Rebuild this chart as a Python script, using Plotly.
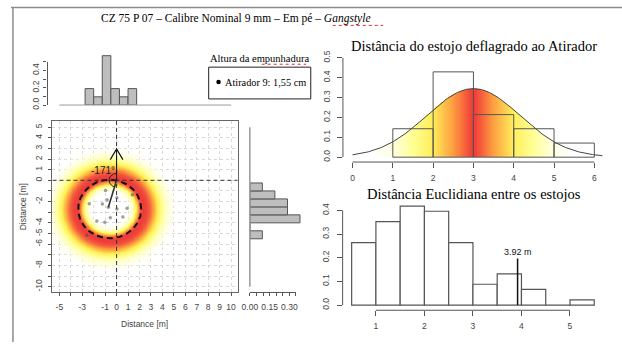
import numpy as np
import plotly.graph_objects as go

W, H = 622, 347

# ---------------- data ----------------
# case positions (m) relative to shooter
pts_x = [-0.97, 1.38, 0.03, -0.83, -2.39, -1.24, -0.72, 0.03, 0.92, 0.55, -0.55, -1.72, -1.03, -2.60]
pts_y = [-0.96, -1.35, -1.63, -1.84, -2.21, -2.24, -2.54, -2.69, -2.63, -3.46, -3.52, -3.82, -3.94, -5.16]
mean_pt = (-0.72, -2.54)
circle_center = (-0.6, -2.7)
circle_radius = 2.75
ring_radius, ring_in, ring_out = 2.9, 0.5, 1.1
angle_label = "-171°"
facing_len = 2.94

# marginal histograms (density)
top_edges = [-2.75, -2.0, -1.25, -0.5, 0.25, 1.0, 1.75]
top_dens = [0.190, 0.095, 0.571, 0.190, 0.095, 0.190]
right_edges = [-5.5, -4.75, -4.0, -3.25, -2.5, -1.75, -1.0, -0.25]
right_dens = [0.095, 0.0, 0.381, 0.286, 0.286, 0.190, 0.095]

# distance case -> shooter
dist_edges = [1, 2, 3, 4, 5, 6]
dist_dens = [0.143, 0.429, 0.214, 0.143, 0.071]
dist_mean, dist_sd = 3.0, 1.156

# euclidean distance between cases
eucl_edges = [0.5, 1.0, 1.5, 2.0, 2.5, 3.0, 3.5, 4.0, 4.5, 5.0, 5.5]
eucl_dens = [0.264, 0.352, 0.418, 0.396, 0.264, 0.088, 0.132, 0.066, 0.0, 0.022]
eucl_mark = 3.92
eucl_mark_h = 0.197

# ---------------- helpers ----------------
def PX(px):
    return px / W

def PY(py):
    return 1 - py / H

def mids(e):
    return [(a + b) / 2 for a, b in zip(e[:-1], e[1:])]

TICKFONT = dict(family="Liberation Sans, Arial", size=8.5, color="#444")
AX = "#555"
SERIF = "Liberation Serif, Times New Roman"

fig = go.Figure()

# ---------- scatter panel heat ring ----------
gx = np.linspace(-5.6, 10.6, 330)
gy = np.linspace(-10.6, 5.6, 330)
GX, GY = np.meshgrid(gx, gy)
R = np.hypot(GX - circle_center[0], GY - circle_center[1])
S = np.where(R < ring_radius, ring_in, ring_out)
Z = np.exp(-(R - ring_radius) ** 2 / (2 * S ** 2))
heat_cs = [[0, "rgba(255,255,255,0)"], [0.1, "rgba(255,255,215,0.7)"],
           [0.3, "rgb(255,255,150)"], [0.5, "rgb(255,240,85)"],
           [0.72, "rgb(252,160,62)"], [0.88, "rgb(244,92,62)"], [1, "rgb(238,60,58)"]]
fig.add_trace(go.Heatmap(x=gx, y=gy, z=Z, colorscale=heat_cs, zmin=0, zmax=1,
                         zsmooth="best", showscale=False, hoverinfo="skip",
                         xaxis="x", yaxis="y"))

# crosshair dashed lines
fig.add_trace(go.Scatter(x=[-5.6, 10.6], y=[0, 0], mode="lines",
                         line=dict(color="#333", width=1, dash="4px,3px"), xaxis="x", yaxis="y", hoverinfo="skip"))
fig.add_trace(go.Scatter(x=[0, 0], y=[-10.6, 5.6], mode="lines",
                         line=dict(color="#333", width=1, dash="4px,3px"), xaxis="x", yaxis="y", hoverinfo="skip"))

# dashed circle
th = np.linspace(0, 2 * np.pi, 200)
fig.add_trace(go.Scatter(x=circle_center[0] + circle_radius * np.cos(th),
                         y=circle_center[1] + circle_radius * np.sin(th),
                         mode="lines", line=dict(color="#111", width=2, dash="6px,4px"),
                         xaxis="x", yaxis="y", hoverinfo="skip"))

# points
fig.add_trace(go.Scatter(x=pts_x, y=pts_y, mode="markers",
                         marker=dict(size=3.5, color="rgba(80,80,80,0.55)"),
                         xaxis="x", yaxis="y", hoverinfo="skip"))

# facing arrow
fig.add_trace(go.Scatter(x=[0, 0], y=[0, facing_len], mode="lines",
                         line=dict(color="#111", width=1), xaxis="x", yaxis="y", hoverinfo="skip"))
fig.add_trace(go.Scatter(x=[-0.55, 0, 0.55], y=[facing_len - 1.0, facing_len, facing_len - 1.0], mode="lines",
                         line=dict(color="#111", width=1.2), xaxis="x", yaxis="y", hoverinfo="skip"))
# mean direction line
fig.add_trace(go.Scatter(x=[mean_pt[0], 0], y=[mean_pt[1], 0], mode="lines",
                         line=dict(color="#333", width=1.6), xaxis="x", yaxis="y", hoverinfo="skip"))
# angle arc
a0 = np.pi / 2
a1 = np.arctan2(mean_pt[1], mean_pt[0]) + 2 * np.pi
ta = np.linspace(a0, a1, 60)
fig.add_trace(go.Scatter(x=0.65 * np.cos(ta), y=0.65 * np.sin(ta), mode="lines",
                         line=dict(color="#222", width=1), xaxis="x", yaxis="y", hoverinfo="skip"))

# ---------- top marginal histogram ----------
fig.add_trace(go.Bar(x=mids(top_edges), y=top_dens, width=0.75,
                     marker=dict(color="#bebebe", line=dict(color="#555", width=1)),
                     xaxis="x2", yaxis="y2", hoverinfo="skip"))

# ---------- right marginal histogram ----------
fig.add_trace(go.Bar(y=mids(right_edges), x=right_dens, width=0.75, orientation="h",
                     marker=dict(color="#bebebe", line=dict(color="#555", width=1)),
                     xaxis="x3", yaxis="y3", hoverinfo="skip"))

# ---------- distance to shooter ----------
xs = np.arange(0.0, 6.225, 0.025)
fx = np.exp(-(xs - dist_mean) ** 2 / (2 * dist_sd ** 2)) / (dist_sd * np.sqrt(2 * np.pi))
t = np.clip(1 - np.abs(xs - dist_mean) / 2.5, 0, 1)
grad_cs = [[0, "rgb(255,255,255)"], [0.2, "rgb(255,255,228)"], [0.4, "rgb(255,255,150)"],
           [0.6, "rgb(255,238,90)"], [0.8, "rgb(253,160,64)"], [0.92, "rgb(246,95,60)"], [1, "rgb(240,55,55)"]]
fig.add_trace(go.Bar(x=xs, y=fx, width=0.04,
                     marker=dict(color=t, colorscale=grad_cs, cmin=0, cmax=1, line=dict(width=0)),
                     xaxis="x4", yaxis="y4", hoverinfo="skip"))
fig.add_trace(go.Bar(x=mids(dist_edges), y=dist_dens, width=1,
                     marker=dict(color="rgba(0,0,0,0)", line=dict(color="#555", width=1)),
                     xaxis="x4", yaxis="y4", hoverinfo="skip"))
fig.add_trace(go.Scatter(x=xs, y=fx, mode="lines", line=dict(color="#444", width=1),
                         xaxis="x4", yaxis="y4", hoverinfo="skip"))

# ---------- euclidean distance ----------
fig.add_trace(go.Bar(x=mids(eucl_edges), y=eucl_dens, width=0.5,
                     marker=dict(color="white", line=dict(color="#555", width=1.2)),
                     xaxis="x5", yaxis="y5", hoverinfo="skip"))
fig.add_trace(go.Scatter(x=[eucl_mark, eucl_mark], y=[0, eucl_mark_h], mode="lines",
                         line=dict(color="#111", width=1.5), xaxis="x5", yaxis="y5", hoverinfo="skip"))

# ---------------- axes ----------------
def base_axis(**kw):
    d = dict(ticks="outside", ticklen=3, tickwidth=1, tickcolor=AX, tickfont=TICKFONT,
             showgrid=False, zeroline=False, showline=False, fixedrange=True)
    d.update(kw)
    return d

sx = 11.6   # px per m (scatter x)
sy = 10.95  # px per m (scatter y)
x0px, y0py = 110, 180.5

int_x = list(range(-5, 11))
lab_x = [str(v) if v not in (-4, -2) else "" for v in int_x]
int_y = list(range(-10, 6))
lab_y = [str(v) if v not in (-1, -3, -7, -9) else "" for v in int_y]

fig.update_layout(
    xaxis=base_axis(domain=[PX(45), PX(232.5)], range=[(45 - x0px) / sx, (232.5 - x0px) / sx],
                    anchor="y", tickvals=int_x, ticktext=lab_x, showline=True, mirror=True,
                    linecolor="#666", showgrid=True, gridcolor="#d8d8d8", griddash="dot",
                    ticklabelstandoff=3),
    yaxis=base_axis(domain=[PY(296), PY(119)], range=[(y0py - 296) / sy, (y0py - 119) / sy],
                    anchor="x", tickvals=int_y, ticktext=lab_y, tickangle=-90, showline=True,
                    mirror=True, linecolor="#666", showgrid=True, gridcolor="#d8d8d8",
                    griddash="dot", ticklabelstandoff=3),
    xaxis2=base_axis(domain=[PX(40), PX(232.5)], range=[(40 - x0px) / sx, (232.5 - x0px) / sx],
                     anchor="y2", ticks="", showticklabels=False),
    yaxis2=base_axis(domain=[PY(103), PY(45)], range=[0, 58 / 89.0], anchor="x2",
                     tickvals=[0, 0.1, 0.2, 0.3, 0.4, 0.5], ticktext=["0.0", "", "0.2", "", "0.4", ""],
                     tickangle=-90, ticklabelstandoff=1),
    xaxis3=base_axis(domain=[PX(245), PX(305)], range=[0, 60 * 0.0075], anchor="y3",
                     tickvals=[0, 0.05, 0.1, 0.15, 0.2, 0.25, 0.3, 0.35],
                     ticktext=["0.00", "", "", "0.15", "", "", "0.30", ""], ticklabelstandoff=3),
    yaxis3=base_axis(domain=[PY(296), PY(119)], range=[(y0py - 296) / sy, (y0py - 119) / sy],
                     anchor="x3", ticks="", showticklabels=False),
    xaxis4=base_axis(domain=[PX(339.3), PX(606)], range=[(339.3 - 349) / 40.83, (606 - 349) / 40.83],
                     anchor="y4", tickvals=[0, 1, 2, 3, 4, 5, 6], ticklen=5, ticklabelstandoff=3),
    yaxis4=base_axis(domain=[PY(161.7), PY(52)], range=[(156.7 - 161.7) / 204.8, (156.7 - 52) / 204.8],
                     anchor="x4", tickvals=[0, 0.1, 0.2, 0.3, 0.4, 0.5],
                     ticktext=["0.0", "0.1", "0.2", "0.3", "0.4", "0.5"], tickangle=-90,
                     ticklen=5, ticklabelstandoff=4),
    xaxis5=base_axis(domain=[PX(339), PX(600)], range=[1 + (339 - 372.7) / 49.15, 1 + (600 - 372.7) / 49.15],
                     anchor="y5", tickvals=[1, 2, 3, 4, 5], ticklen=5, ticklabelstandoff=3),
    yaxis5=base_axis(domain=[PY(314.3), PY(205)], range=[(309 - 314.3) / 244, (309 - 205) / 244],
                     anchor="x5", tickvals=[0, 0.1, 0.2, 0.3, 0.4],
                     ticktext=["0.0", "0.1", "0.2", "0.3", "0.4"], tickangle=-90,
                     ticklen=5, ticklabelstandoff=4),
)

# ---------------- shapes ----------------
def pline(x0, y0, x1, y1, color=AX, width=1, dash=None):
    ln = dict(color=color, width=width)
    if dash:
        ln["dash"] = dash
    return dict(type="line", xref="paper", yref="paper", x0=PX(x0), y0=PY(y0), x1=PX(x1), y1=PY(y1), line=ln)

shapes = [
    # outer frame
    pline(3, 2.5, 622, 2.5, color="#8c8c8c", width=1.5),
    pline(5, 2, 5, 347, color="#8c8c8c", width=1.5),
    # top hist y axis & baseline
    pline(40, 103, 40, 103 - 0.5 * 89),
    pline(x0px - 5 * sx, 103, x0px + 10 * sx, 103, color="#9a9a9a", width=1),
    # right hist baseline & x axis
    pline(245, y0py - 5 * sy, 245, y0py + 10 * sy, color="#9a9a9a", width=1.5),
    pline(245, 296, 245 + 0.35 / 0.0075, 296),
    # top-right axes
    pline(349, 161.7, 349 + 6 * 40.83, 161.7),
    pline(339.3, 156.7, 339.3, 156.7 - 0.5 * 204.8),
    # bottom-right axes
    pline(372.7, 314.3, 372.7 + 4 * 49.15, 314.3),
    pline(339, 309, 339, 309 - 0.4 * 244),
    # legend box
    dict(type="rect", xref="paper", yref="paper", x0=PX(203.3), y0=PY(96.7), x1=PX(306.7), y1=PY(64),
         line=dict(color="#222", width=1), fillcolor="white"),
    dict(type="circle", xref="paper", yref="paper", x0=PX(211), y0=PY(81.6), x1=PX(215.6), y1=PY(77),
         line=dict(color="black", width=0), fillcolor="black"),
    # spell-check underlines
    pline(257, 61, 302, 61, color="#e03030", width=1, dash="dot"),
    pline(329, 21, 380, 21, color="#e03030", width=1, dash="dot"),
]

# ---------------- annotations ----------------
def ptext(px, py, text, size, family=SERIF, color="black", xanchor="center", angle=0):
    return dict(xref="paper", yref="paper", x=PX(px), y=PY(py), text=text, showarrow=False,
                xanchor=xanchor, yanchor="middle", textangle=angle,
                font=dict(family=family, size=size, color=color))

annotations = [
    ptext(92, 14, "CZ 75 P 07 – Calibre Nominal 9 mm – Em pé – <i>Gangstyle</i>", 11.5, xanchor="left"),
    ptext(471.7, 42.7, "Distância do estojo deflagrado ao Atirador", 14.5),
    ptext(471.7, 195, "Distância Euclidiana entre os estojos", 14.5),
    ptext(255, 55.5, "Altura da empunhadura", 10.5),
    ptext(218, 79.5, "Atirador 9: 1,55 cm", 10.3, xanchor="left"),
    ptext(138.7, 328, "Distance [m]", 8.5, family="Liberation Sans, Arial", color="#444"),
    ptext(15, 207.5, "Distance [m]", 8.5, family="Liberation Sans, Arial", color="#444", angle=-90),
    dict(xref="x", yref="y", x=-1.15, y=0.96, text=angle_label, showarrow=False,
         font=dict(family="Liberation Sans, Arial", size=10, color="#222")),
    dict(xref="x5", yref="y5", x=eucl_mark, y=0.225, text=f"{eucl_mark:.2f} m", showarrow=False,
         font=dict(family="Liberation Sans, Arial", size=9, color="#111")),
]

fig.update_layout(width=W, height=H, margin=dict(l=0, r=0, t=0, b=0),
                  paper_bgcolor="white", plot_bgcolor="rgba(0,0,0,0)",
                  showlegend=False, barmode="overlay", bargap=0,
                  font=dict(family="Liberation Sans, Arial"),
                  shapes=shapes, annotations=annotations)

POST = ("document.body.style.margin='0px';document.body.style.padding='0px';"
        "document.body.style.overflow='hidden';"
        "var gd=document.getElementById('{plot_id}');"
        "gd.style.position='absolute';gd.style.left='0px';gd.style.top='0px';")

fig.write_html("out.html", config={"displayModeBar": False, "staticPlot": True}, post_script=POST)
